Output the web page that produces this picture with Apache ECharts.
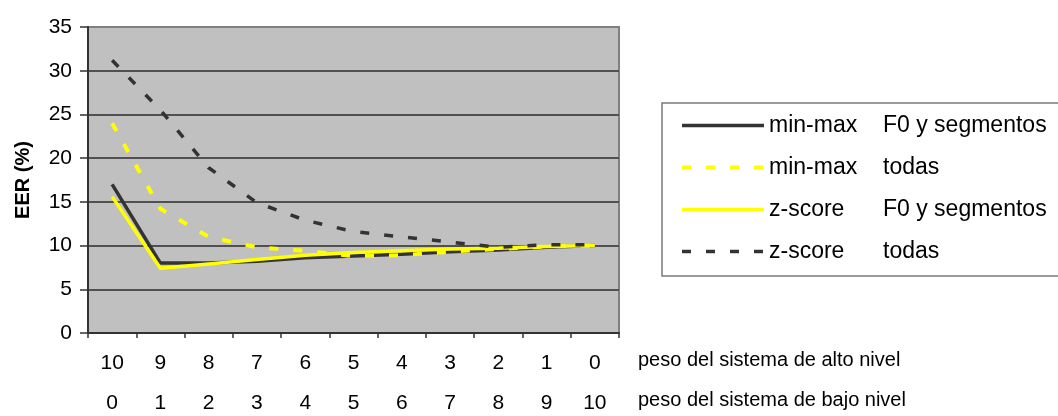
<!DOCTYPE html>
<html>
<head>
<meta charset="utf-8">
<script src="https://cdn.jsdelivr.net/npm/echarts@6/dist/echarts.min.js"></script>
<style>
html,body{margin:0;padding:0;background:#fff;}
#c{width:1058px;height:416px;}
</style>
</head>
<body>
<div id="c"></div>
<script>
const highLabels = ['10','9','8','7','6','5','4','3','2','1','0'];
const lowLabels = ['0','1','2','3','4','5','6','7','8','9','10'];
const highName = 'peso del sistema de alto nivel';
const lowName = 'peso del sistema de bajo nivel';
const yTitle = 'EER (%)';

const seriesNames = [
  ['min-max', 'F0 y segmentos'],
  ['min-max', 'todas'],
  ['z-score', 'F0 y segmentos'],
  ['z-score', 'todas']
];
const minmaxF0    = [17.0, 8.0, 8.0, 8.2, 8.6, 8.8, 9.0, 9.3, 9.5, 9.8, 10.0];
const minmaxTodas = [24.0, 14.2, 11.0, 9.8, 9.4, 8.8, 8.9, 9.3, 9.6, 9.9, 10.0];
const zscoreF0    = [15.6, 7.4, 7.9, 8.4, 8.9, 9.2, 9.4, 9.6, 9.7, 9.9, 10.0];
const zscoreTodas = [31.2, 25.5, 18.9, 14.9, 12.9, 11.6, 11.0, 10.4, 9.8, 10.1, 10.1];

const values = [minmaxF0, minmaxTodas, zscoreF0, zscoreTodas];
const colors = ['#333333', '#ffff00', '#ffff00', '#333333'];
const dashes = ['solid', [9, 15], 'solid', [9, 15]];
const widths = [3.5, 4, 3.5, 3.5];

const FONT = '"Liberation Sans", Arial, sans-serif';

const chart = echarts.init(document.getElementById('c'), null, {renderer: 'canvas'});
const names = seriesNames.map(p => p.join('  '));

chart.setOption({
  animation: false,
  backgroundColor: '#ffffff',
  textStyle: {fontFamily: FONT},
  grid: {
    left: 88, right: 439, top: 27, bottom: 83,
    show: true, backgroundColor: '#c0c0c0',
    borderColor: '#808080', borderWidth: 2
  },
  legend: {
    orient: 'vertical',
    left: 662, top: 103,
    padding: [11, 30, 13, 18],
    backgroundColor: '#ffffff',
    borderColor: '#7a7a7a', borderWidth: 1.5, borderRadius: 0,
    itemWidth: 82, itemHeight: 20, itemGap: 19,
    itemStyle: {opacity: 0},
    data: names.map((n, i) => ({
      name: n,
      itemStyle: {opacity: 0},
      lineStyle: {width: widths[i], type: dashes[i], color: colors[i]}
    })),
    formatter: function (n) {
      const p = n.split('  ');
      return '{a|' + p[0] + '}{b|' + p[1] + '}';
    },
    textStyle: {
      fontFamily: FONT, fontSize: 23, color: '#000',
      rich: {
        a: {fontFamily: FONT, fontSize: 23, color: '#000', width: 114, lineHeight: 20},
        b: {fontFamily: FONT, fontSize: 23, color: '#000', lineHeight: 20}
      }
    }
  },
  xAxis: [
    {
      type: 'category', data: highLabels, boundaryGap: true, position: 'bottom',
      axisLine: {show: true, lineStyle: {color: '#333', width: 2}},
      axisTick: {show: true, length: 5, lineStyle: {color: '#333', width: 1.5}},
      axisLabel: {fontFamily: FONT, fontSize: 21, color: '#000', margin: 20},
      splitLine: {show: false}
    },
    {
      type: 'category', data: lowLabels, boundaryGap: true, position: 'bottom', offset: 40,
      axisLine: {show: false}, axisTick: {show: false},
      axisLabel: {fontFamily: FONT, fontSize: 21, color: '#000', margin: 20},
      splitLine: {show: false}
    }
  ],
  yAxis: {
    type: 'value', min: 0, max: 35, interval: 5,
    name: yTitle, nameLocation: 'middle', nameGap: 55,
    nameTextStyle: {fontFamily: FONT, fontSize: 20, fontWeight: 'bold', color: '#000'},
    axisLine: {show: true, lineStyle: {color: '#333', width: 2}},
    axisTick: {show: true, length: 8, lineStyle: {color: '#333', width: 1.5}},
    axisLabel: {fontFamily: FONT, fontSize: 21, color: '#000', margin: 16},
    splitLine: {show: true, lineStyle: {
      color: ['#505050','#505050','#505050','#505050','#505050','#505050','#505050','#808080'],
      width: 2}}
  },
  graphic: [
    {type: 'text', left: 638, top: 350, style: {text: highName, font: '20px ' + FONT, fill: '#000'}},
    {type: 'text', left: 638, top: 390, style: {text: lowName, font: '20px ' + FONT, fill: '#000'}}
  ],
  series: values.map((v, i) => ({
    name: names[i],
    type: 'line',
    xAxisIndex: 0,
    data: v,
    symbol: 'none',
    showSymbol: false,
    smooth: false,
    z: 2 + i,
    color: colors[i],
    lineStyle: {color: colors[i], width: widths[i], type: dashes[i], cap: 'butt'},
    itemStyle: {color: colors[i]}
  }))
});
</script>
</body>
</html>
